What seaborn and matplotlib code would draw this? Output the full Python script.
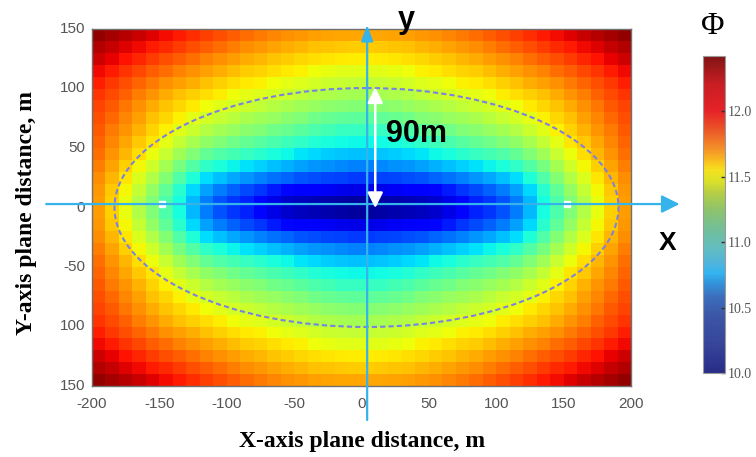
import numpy as np
import matplotlib
matplotlib.use("Agg")
import matplotlib.pyplot as plt
from matplotlib.colors import LinearSegmentedColormap, Normalize
from matplotlib.patches import Ellipse
import matplotlib.cm as cm
import seaborn as sns
import pandas as pd

x_centers = [5, 15, 25, 35, 45, 55, 65, 75, 85, 95, 105, 115, 125, 135, 145, 155, 165, 175, 185, 195]
y_centers = [145, 135, 125, 115, 105, 95, 85, 75, 65, 55, 45, 35, 25, 15, 5]
phi_q = [
    [11.77, 11.77, 11.78, 11.79, 11.81, 11.83, 11.86, 11.89, 11.92, 11.96, 12.00, 12.04, 12.08, 12.13, 12.17, 12.22, 12.26, 12.30, 12.34, 12.38],
    [11.68, 11.69, 11.70, 11.71, 11.73, 11.75, 11.78, 11.81, 11.84, 11.88, 11.92, 11.96, 12.00, 12.05, 12.09, 12.13, 12.18, 12.22, 12.27, 12.31],
    [11.59, 11.60, 11.61, 11.63, 11.65, 11.68, 11.70, 11.73, 11.76, 11.80, 11.83, 11.87, 11.91, 11.96, 12.00, 12.05, 12.10, 12.15, 12.20, 12.25],
    [11.51, 11.51, 11.53, 11.55, 11.58, 11.60, 11.63, 11.66, 11.68, 11.72, 11.75, 11.79, 11.83, 11.87, 11.92, 11.96, 12.02, 12.07, 12.13, 12.18],
    [11.42, 11.43, 11.44, 11.47, 11.50, 11.52, 11.55, 11.58, 11.60, 11.63, 11.67, 11.71, 11.75, 11.79, 11.83, 11.89, 11.94, 12.00, 12.06, 12.12],
    [11.33, 11.34, 11.36, 11.38, 11.41, 11.44, 11.47, 11.50, 11.52, 11.55, 11.59, 11.63, 11.67, 11.71, 11.76, 11.82, 11.88, 11.95, 12.01, 12.07],
    [11.23, 11.24, 11.26, 11.29, 11.32, 11.35, 11.38, 11.41, 11.44, 11.47, 11.51, 11.55, 11.60, 11.65, 11.70, 11.76, 11.83, 11.90, 11.97, 12.03],
    [11.12, 11.13, 11.15, 11.18, 11.22, 11.25, 11.29, 11.32, 11.35, 11.39, 11.43, 11.47, 11.52, 11.58, 11.65, 11.71, 11.79, 11.86, 11.93, 12.00],
    [11.01, 11.01, 11.04, 11.07, 11.11, 11.15, 11.18, 11.22, 11.25, 11.29, 11.33, 11.38, 11.44, 11.51, 11.58, 11.66, 11.74, 11.82, 11.89, 11.97],
    [10.89, 10.90, 10.92, 10.95, 10.99, 11.03, 11.06, 11.10, 11.14, 11.18, 11.22, 11.27, 11.34, 11.42, 11.52, 11.61, 11.69, 11.77, 11.86, 11.94],
    [10.76, 10.77, 10.79, 10.82, 10.85, 10.89, 10.92, 10.97, 11.01, 11.04, 11.08, 11.14, 11.22, 11.32, 11.43, 11.54, 11.63, 11.73, 11.82, 11.91],
    [10.61, 10.63, 10.65, 10.66, 10.69, 10.72, 10.76, 10.80, 10.84, 10.88, 10.93, 10.99, 11.09, 11.20, 11.33, 11.45, 11.56, 11.67, 11.78, 11.88],
    [10.44, 10.46, 10.47, 10.49, 10.51, 10.54, 10.57, 10.61, 10.66, 10.70, 10.76, 10.83, 10.94, 11.08, 11.23, 11.37, 11.49, 11.61, 11.73, 11.84],
    [10.22, 10.23, 10.25, 10.27, 10.29, 10.32, 10.36, 10.43, 10.48, 10.53, 10.60, 10.69, 10.82, 10.97, 11.13, 11.28, 11.42, 11.56, 11.69, 11.81],
    [10.07, 10.08, 10.10, 10.12, 10.14, 10.17, 10.22, 10.32, 10.38, 10.43, 10.50, 10.60, 10.74, 10.91, 11.07, 11.22, 11.37, 11.53, 11.67, 11.80],
]
x_ticks = [-200, -150, -100, -50, 0, 50, 100, 150, 200]
y_ticks = [150, 100, 50, 0, -50, -100, -150]
y_tick_labels = ["150", "100", "50", "0", "-50", "100", "150"]
cb_ticks = [10.0, 10.5, 11.0, 11.5, 12.0]
phi_min, phi_max = 10.0, 12.42

# ---- assemble full symmetric grid ----
Q = np.array(phi_q)
top = np.hstack([Q[:, ::-1], Q])
full = np.vstack([top, top[::-1, :]])
xq = np.array(x_centers)
yq = np.array(y_centers)
xc = np.concatenate([-xq[::-1], xq])
yc = np.concatenate([yq, -yq[::-1]])
df = pd.DataFrame(full, index=yc, columns=xc)

W, H = 756, 457
fig = plt.figure(figsize=(W / 100, H / 100), dpi=100)
ax = fig.add_axes([92 / W, 1 - 386 / H, 539 / W, 357 / H])
sns.heatmap(df, ax=ax, cmap="jet", vmin=phi_min, vmax=phi_max, cbar=False)
for s in ax.spines.values():
    s.set_visible(True)
    s.set_color("#707070")
    s.set_linewidth(1.0)

cx = lambda x: (x + 200) / 10.0
cy = lambda y: (150 - y) / 10.0
ax.set_xticks([cx(v) for v in x_ticks])
ax.set_xticklabels([str(v) for v in x_ticks], rotation=0)
ax.set_yticks([cy(v) for v in y_ticks])
ax.set_yticklabels(y_tick_labels, rotation=0)
ax.tick_params(length=0, labelsize=11, colors="#555555", pad=5)
ax.tick_params(axis="x", pad=8)
for t in ax.get_xticklabels() + ax.get_yticklabels():
    t.set_family("Liberation Sans")
ax.set_xlabel("")
ax.set_ylabel("")

# ---- overlay sketch marks ----
cyan = "#35b3ea"
ax.add_patch(Ellipse((cx(3.7), cy(0)), 37.4, 20.08, fill=False, ls=(0, (2.5, 1.5)),
                     ec="#7d80e0", lw=1.5, zorder=3))
ax.plot([cx(-148), cx(152.5)], [cy(2.9), cy(2.9)], ls="none", marker="s", ms=5,
        mfc="white", mec="white", zorder=4, clip_on=False)
ax.annotate("", xy=(cx(236), cy(2.9)), xytext=(cx(-234), cy(2.9)), xycoords="data",
            arrowprops=dict(arrowstyle="-|>,head_length=0.4,head_width=0.2", color=cyan, lw=1.6,
                            mutation_scale=27, shrinkA=0, shrinkB=0),
            annotation_clip=False, zorder=5)
ax.annotate("", xy=(cx(4.2), cy(153.4)), xytext=(cx(4.2), cy(-178.6)), xycoords="data",
            arrowprops=dict(arrowstyle="-|>,head_length=0.4,head_width=0.15", color=cyan, lw=1.6,
                            mutation_scale=24, shrinkA=0, shrinkB=0),
            annotation_clip=False, zorder=5)
ax.annotate("", xy=(cx(10.2), cy(101)), xytext=(cx(10.2), cy(-0.5)), xycoords="data",
            arrowprops=dict(arrowstyle="<|-|>,head_length=0.4,head_width=0.2", color="white", lw=1.8,
                            mutation_scale=23, shrinkA=0, shrinkB=0),
            annotation_clip=False, zorder=6)

fig.text(385.7 / W, 1 - 142 / H, "90m", fontsize=22, fontweight="bold", family="Liberation Sans",
         ha="left", va="baseline")
fig.text(406 / W, 1 - 28 / H, "y", fontsize=22, fontweight="bold", family="Liberation Sans",
         ha="center", va="baseline")
fig.text(667.5 / W, 1 - 242.5 / H, "X", fontsize=19, fontweight="bold", family="Liberation Sans",
         ha="center", va="center")
fig.text(362 / W, 1 - 441 / H, "X-axis plane distance, m", fontsize=17, fontweight="bold",
         family="Liberation Serif", ha="center", va="center")
fig.text(27 / W, 1 - 213 / H, "Y-axis plane distance, m", fontsize=17, fontweight="bold",
         family="Liberation Serif", ha="center", va="center", rotation=90)
fig.text(712.5 / W, 1 - 26 / H, "\u03a6", fontsize=23, family="Liberation Serif", ha="center", va="center")

# ---- colour bar (muted jet, as in the picture) ----
stops = [(10.0, (40, 45, 135)), (10.23, (55, 70, 155)), (10.43, (60, 85, 165)), (10.58, (60, 110, 190)),
         (10.69, (50, 150, 220)), (10.76, (50, 180, 240)), (10.84, (80, 180, 220)), (10.96, (100, 190, 190)),
         (11.07, (110, 190, 160)), (11.24, (140, 195, 110)), (11.37, (180, 205, 70)), (11.47, (220, 225, 40)),
         (11.55, (245, 225, 30)), (11.62, (250, 190, 30)), (11.70, (245, 150, 40)), (11.85, (235, 90, 40)),
         (12.0, (230, 35, 40)), (12.21, (200, 30, 35)), (12.42, (130, 20, 20))]
cb_cmap = LinearSegmentedColormap.from_list(
    "muted_jet", [((v - phi_min) / (phi_max - phi_min), tuple(c / 255 for c in col)) for v, col in stops])
cax = fig.add_axes([703 / W, 1 - 373 / H, 22 / W, 317 / H])
cb = fig.colorbar(cm.ScalarMappable(norm=Normalize(phi_min, phi_max), cmap=cb_cmap), cax=cax)
cb.set_ticks(cb_ticks)
cb.set_ticklabels(["%.1f" % v for v in cb_ticks])
cb.outline.set_edgecolor("#9a9a9a")
cb.outline.set_linewidth(0.8)
cax.tick_params(direction="in", length=3, width=1, colors="#333333", labelcolor="#555555",
                labelsize=10, pad=2)
for t in cax.get_yticklabels():
    t.set_family("Liberation Serif")

fig.savefig("out.png", dpi=100)
